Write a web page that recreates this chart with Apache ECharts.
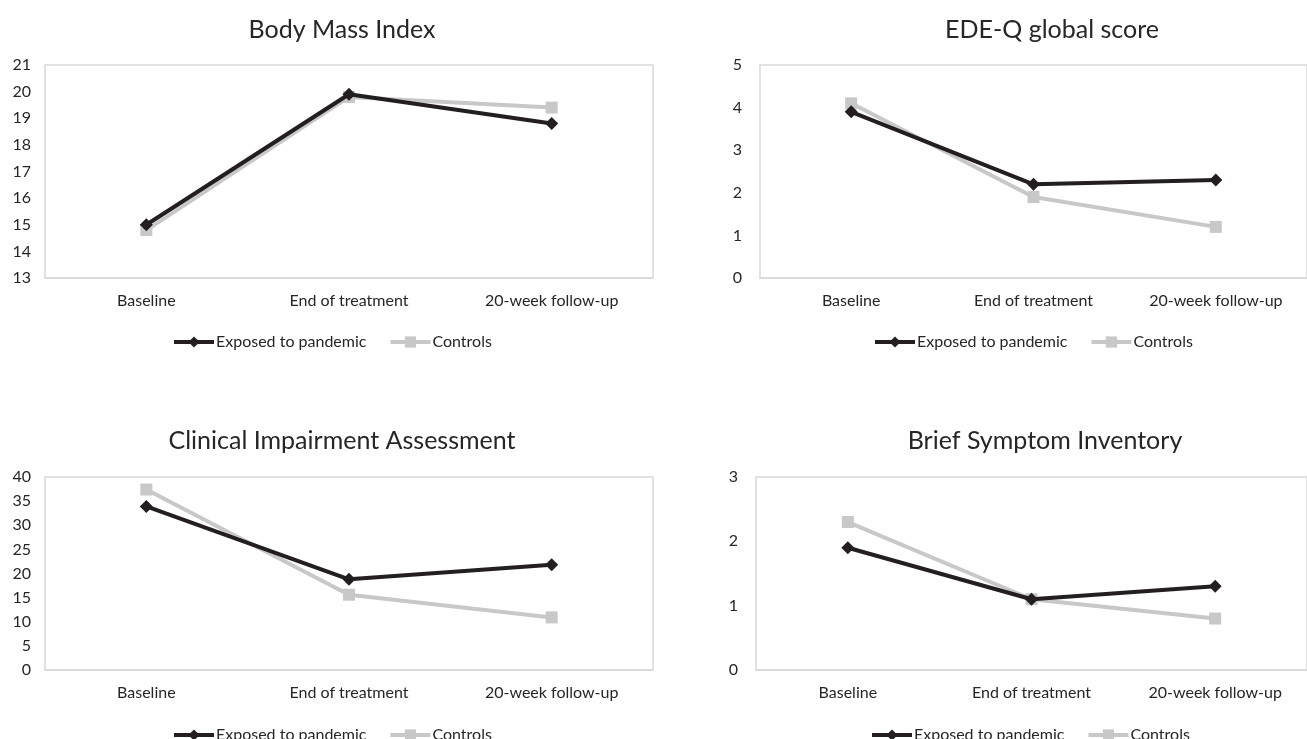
<!DOCTYPE html>
<html><head><meta charset="utf-8">
<script src="https://cdn.jsdelivr.net/npm/echarts@6/dist/echarts.min.js"></script>
<style>html,body{margin:0;padding:0;background:#fff}#c{width:1307px;height:739px}</style>
</head><body><div id="c"></div>
<script>
const categories = ['Baseline', 'End of treatment', '20-week follow-up'];
const seriesNames = ['Exposed to pandemic', 'Controls'];
const titles = ['Body Mass Index', 'EDE-Q global score', 'Clinical Impairment Assessment', 'Brief Symptom Inventory'];
const bmiExposed = [15.0, 19.9, 18.8];
const bmiControls = [14.8, 19.8, 19.4];
const edeqExposed = [3.9, 2.2, 2.3];
const edeqControls = [4.1, 1.9, 1.2];
const ciaExposed = [33.9, 18.8, 21.8];
const ciaControls = [37.4, 15.6, 10.9];
const bsiExposed = [1.9, 1.1, 1.3];
const bsiControls = [2.3, 1.1, 0.8];
const yMin = [13, 0, 0, 0];
const yMax = [21, 5, 40, 3];
const yStep = [1, 1, 5, 1];

const panels = [[bmiExposed, bmiControls], [edeqExposed, edeqControls], [ciaExposed, ciaControls], [bsiExposed, bsiControls]];
const grids = [
  {left: 45, top: 65, width: 608, height: 213},
  {left: 760, top: 65, width: 560, height: 213},
  {left: 45, top: 477, width: 608, height: 193},
  {left: 756, top: 477, width: 564, height: 193}
];
const titlePos = [[337, 12], [1047, 12], [337, 423], [1040, 423]];
const legendPos = [[167, 329], [868, 329], [167, 722], [865, 722]];
const font = 'Lato, "Open Sans", sans-serif';
const colors = ['#231f20', '#c8c8c8'];
const symbols = ['diamond', 'rect'];

const option = {
  animation: false,
  textStyle: {fontFamily: font, color: '#404040'},
  title: titles.map((t, i) => ({text: t, left: titlePos[i][0], top: titlePos[i][1], textAlign: 'center',
    textStyle: {fontFamily: font, fontSize: 25, fontWeight: 'normal', color: '#262626'}})),
  grid: grids.map(g => Object.assign({show: true, borderColor: '#d9d9d9', borderWidth: 1.5, backgroundColor: '#fff'}, g)),
  legend: legendPos.map((p, i) => ({
    left: p[0], top: p[1], itemWidth: 40, itemHeight: 14, itemGap: 22,
    lineStyle: {width: 4},
    textStyle: {fontFamily: font, fontSize: 16, color: '#262626', padding: [0, 0, 0, -3]},
    data: seriesNames,
    selectedMode: false
  })),
  xAxis: grids.map((g, i) => ({
    type: 'category', gridIndex: i, data: categories, boundaryGap: true,
    axisLine: {lineStyle: {color: '#d9d9d9', width: 1.5}},
    axisTick: {alignWithLabel: true, length: 4, lineStyle: {color: '#bfbfbf'}},
    axisLabel: {fontSize: 16, color: '#262626', margin: 15, fontFamily: font}
  })),
  yAxis: grids.map((g, i) => ({
    type: 'value', gridIndex: i, min: yMin[i], max: yMax[i], interval: yStep[i],
    axisLine: {show: false}, axisTick: {show: false}, splitLine: {show: false},
    axisLabel: {fontSize: 16, color: '#262626', margin: i % 2 === 0 ? 14 : 18, fontFamily: font}
  })),
  series: []
};
panels.forEach((pair, i) => {
  pair.forEach((vals, k) => {
    option.series.push({
      type: 'line', name: seriesNames[k], xAxisIndex: i, yAxisIndex: i, data: vals,
      symbol: symbols[k], symbolSize: k === 0 ? 13 : 12, z: k === 0 ? 3 : 2,
      lineStyle: {color: colors[k], width: 4},
      itemStyle: {color: colors[k]}
    });
  });
});
const chart = echarts.init(document.getElementById('c'));
chart.setOption(option);
</script></body></html>
